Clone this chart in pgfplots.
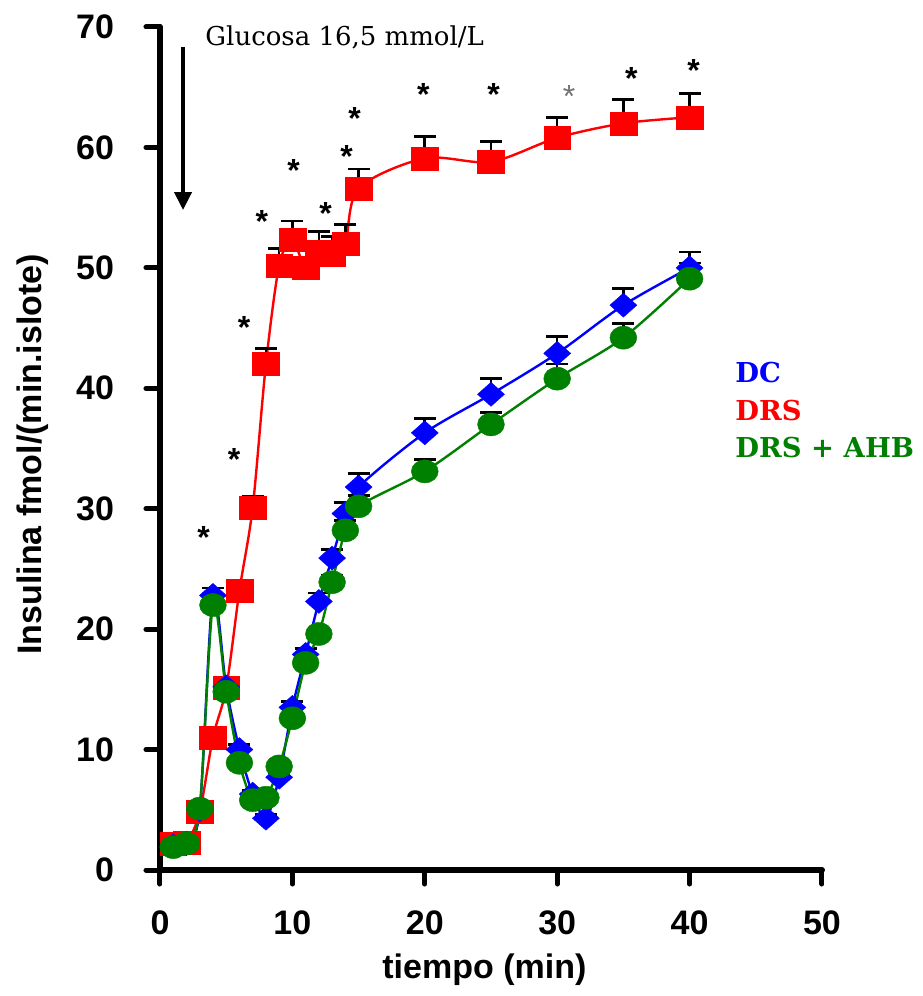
\documentclass[border=0pt]{standalone}
\usepackage{fontspec}
\setmainfont{Liberation Sans}
\newfontfamily\serifface{DejaVu Serif}
\usepackage{pgfplots}
\pgfplotsset{compat=1.18}
\usepackage{pgfplotstable}
\usetikzlibrary{arrows.meta}

\definecolor{dcblue}{RGB}{0,0,255}
\definecolor{drsred}{RGB}{255,0,0}
\definecolor{ahbgreen}{RGB}{0,128,0}

% time (min), insulin, upper error
\pgfplotstableread{
x y e
1 2.2 0.3
2 2.3 0.3
3 4.8 0.5
4 11.0 0.5
5 15.1 0.5
6 23.2 0.5
7 30.1 0.9
8 42.0 1.3
9 50.2 1.4
10 52.3 1.6
11 50.0 0.8
12 51.3 1.7
13 51.1 1.5
14 52.0 1.6
15 56.6 1.6
20 59.1 1.8
25 58.8 1.7
30 60.8 1.7
35 62.0 2.0
40 62.5 2.0
}\drs

\pgfplotstableread{
x y e
1 2.0 0.2
2 2.2 0.2
3 5.0 0.3
4 22.8 0.6
5 15.2 0.4
6 10.0 0.4
7 6.3 0.3
8 4.3 0.3
9 7.7 0.4
10 13.5 0.5
11 17.9 0.5
12 22.3 0.7
13 25.9 0.7
14 29.6 0.9
15 31.8 1.1
20 36.3 1.2
25 39.5 1.3
30 42.9 1.4
35 46.9 1.4
40 50.0 1.3
}\dc

\pgfplotstableread{
x y e
1 1.9 0.2
2 2.2 0.2
3 5.1 0.3
4 22.0 0.4
5 14.8 0.4
6 8.9 0.3
7 5.8 0.3
8 6.0 0.3
9 8.6 0.3
10 12.6 0.4
11 17.2 0.4
12 19.6 0.5
13 23.9 0.6
14 28.2 0.8
15 30.2 0.9
20 33.1 1.0
25 37.0 1.0
30 40.8 1.2
35 44.2 1.2
40 49.1 1.3
}\drsahb

% significance marks
\pgfplotstableread{
x y
3.3 28.2
5.6 34.7
6.35 45.6
7.7 54.4
10.1 58.7
12.5 55.1
14.1 59.8
14.7 63.0
19.9 65.0
25.2 65.0
35.6 66.3
40.3 67.0
}\stars

\pgfplotstableread{
x y
30.9 64.8
}\starsgray

\begin{document}
\begin{tikzpicture}
\begin{axis}[
  at={(0,0)}, anchor=south west,
  scale only axis,
  width=331pt, height=421.5pt,
  xmin=0, xmax=50, ymin=0, ymax=70,
  clip=false,
  axis lines=left,
  axis line style={-, line width=3pt, line cap=round},
  xtick={0,10,...,50},
  ytick={0,10,...,70},
  tick align=outside,
  major tick length=7pt,
  tick style={black, line width=2.5pt, line cap=round},
  /pgf/number format/assume math mode=true,
  tick label style={font=\fontsize{17}{20}\selectfont\bfseries},
  xticklabel style={yshift=-10pt},
  yticklabel style={xshift=-12.5pt},
  xlabel={tiempo (min)},
  ylabel={Insulina fmol/(min.islote)},
  label style={font=\fontsize{17}{20}\selectfont\bfseries},
  xlabel style={at={(axis description cs:0.49,0)}, anchor=center, yshift=-50pt},
  ylabel style={at={(axis description cs:0,0.493)}, anchor=center, yshift=63.5pt},
  error bars/y dir=plus,
  error bars/y explicit,
  error bars/error mark=-,
  error bars/error bar style={black, line width=1.3pt},
  error bars/error mark options={black, line width=1.3pt, mark size=5.5pt, rotate=90},
  legend style={draw=none, fill=none, at={(axis cs:43.46,42.1)}, anchor=north west,
    inner sep=0pt, outer sep=0pt, row sep=8.75pt,
    nodes={inner sep=0pt, text height=10pt, text depth=0pt},
    font=\serifface\bfseries\fontsize{13.7}{16}\selectfont},
  legend cell align=left,
]

\addlegendimage{empty legend}
\addlegendentry{\textcolor{dcblue}{DC}}
\addlegendimage{empty legend}
\addlegendentry{\textcolor{drsred}{DRS}}
\addlegendimage{empty legend}
\addlegendentry{\textcolor{ahbgreen}{DRS + AHB}}

\addplot[forget plot, drsred, line width=1.2pt, smooth,
  mark=square*, mark size=5.75pt,
  mark options={solid, fill=drsred, draw=drsred, line width=0.2pt, xscale=1.17}]
  table[x=x, y=y, y error=e] {\drs};

\addplot[forget plot, dcblue, line width=1.2pt, smooth,
  mark=diamond*, mark size=6pt,
  mark options={solid, fill=dcblue, draw=dcblue, line width=0.2pt, xscale=1.5}]
  table[x=x, y=y, y error=e] {\dc};

\addplot[forget plot, ahbgreen, line width=1.2pt, smooth,
  mark=*, mark size=5.75pt,
  mark options={solid, fill=ahbgreen, draw=ahbgreen, line width=0.2pt, xscale=1.17}]
  table[x=x, y=y, y error=e] {\drsahb};

\addplot[forget plot, draw=none, mark=none,
  nodes near coords={*}, nodes near coords align=center,
  every node near coord/.append style={font=\fontsize{16}{18}\selectfont\bfseries, black, anchor=center, yshift=-3.5pt}]
  table[x=x, y=y] {\stars};

\addplot[forget plot, draw=none, mark=none,
  nodes near coords={*}, nodes near coords align=center,
  every node near coord/.append style={font=\fontsize{16}{18}\selectfont, black!55, anchor=center, yshift=-3.5pt}]
  table[x=x, y=y] {\starsgray};

\draw[line width=2pt, -{Triangle[width=8.5pt, length=9pt]}] (axis cs:1.74,68.3) -- (axis cs:1.74,54.8);
\node[anchor=base west, inner sep=0pt, font=\serifface\fontsize{13}{15}\selectfont] at (axis cs:3.4,68.5) {Glucosa 16,5 mmol/L};

\end{axis}
\pgfresetboundingbox
\useasboundingbox (-80pt,-63pt) rectangle (381pt,435pt);
\end{tikzpicture}
\end{document}
